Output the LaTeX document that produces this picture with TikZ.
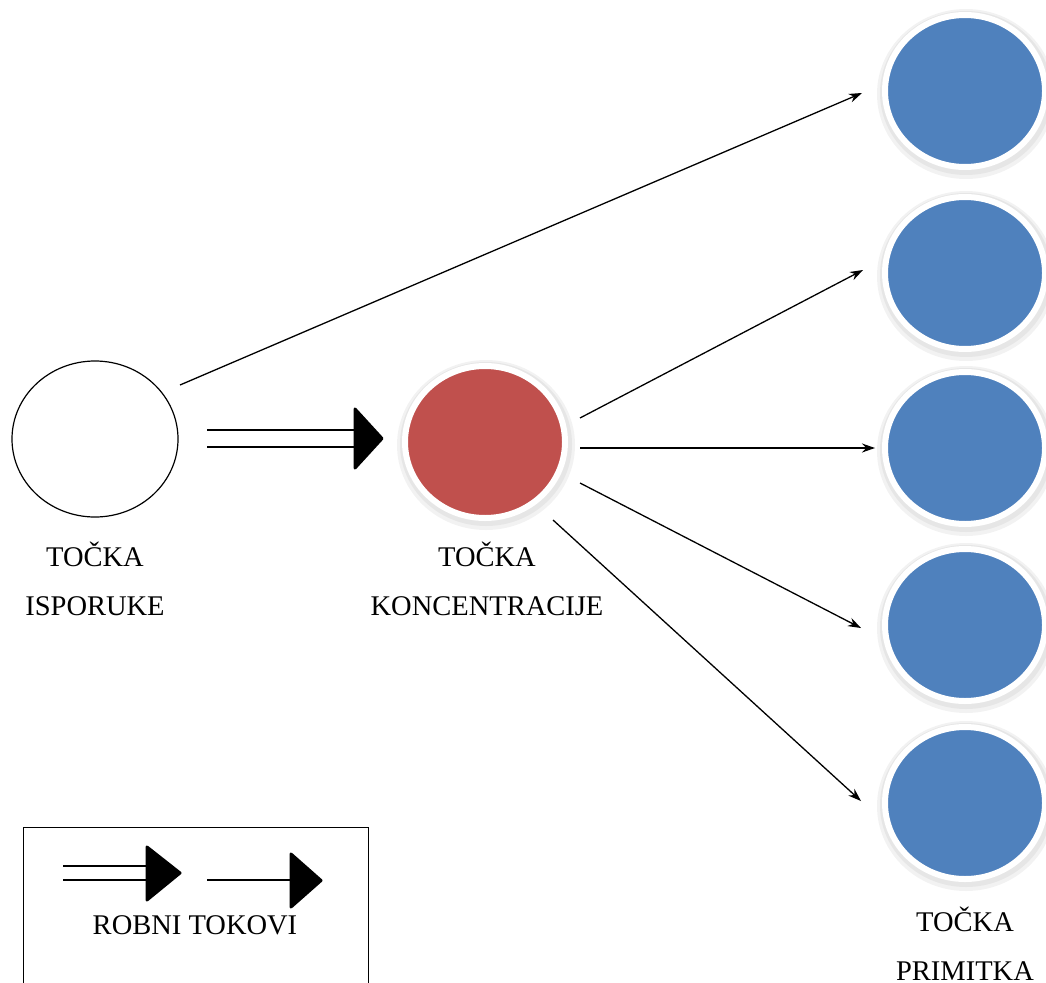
\documentclass[tikz,border=0pt]{standalone}
\usepackage{fontspec}
\setmainfont{Liberation Serif}
\usetikzlibrary{arrows.meta,shapes.geometric}
\definecolor{redfill}{HTML}{C0504D}
\definecolor{bluefill}{HTML}{4F81BD}
\tikzset{
  pt/.style={ellipse, minimum width=160pt, minimum height=152pt, inner sep=0pt},
  filledpt/.style={draw=white, line width=6pt},
  shadowpt/.style={fill=black, opacity=0.05, draw=none},
  thinarr/.style={line width=1.3pt, -{Stealth[length=13pt,width=9pt]}},
  dbl/.style={line width=1.5pt},
  bighead/.style={fill=black, draw=black, line width=3pt, line join=round},
  lbl/.style={font=\fontsize{28.5}{49}\selectfont, align=center, inner sep=0pt},
}
\begin{document}
\begin{tikzpicture}[x=1pt,y=-1pt]
\useasboundingbox (0,0) rectangle (1046,982);
\clip (0,0) rectangle (1046,982);

% supply point
\node[pt, draw=black, line width=1.2pt, minimum width=166pt, minimum height=156pt] (src) at (95,439) {};

% concentration point
\node[pt, shadowpt, minimum width=178pt, minimum height=170pt] at (486,445) {};
\node[pt, shadowpt, minimum width=172pt, minimum height=164pt] at (486,444) {};
\node[pt, filledpt, fill=redfill] (hub) at (485,442) {};

% receiving points
\foreach \n/\y in {1/91,2/273,3/448,4/625,5/803}{
  \node[pt, shadowpt, minimum width=178pt, minimum height=170pt] at (966,\y+3) {};
  \node[pt, shadowpt, minimum width=172pt, minimum height=164pt] at (966,\y+2) {};
  \node[pt, filledpt, fill=bluefill] (b\n) at (965,\y) {};
}

% labels
\node[lbl, anchor=north] (lsrc) at (95,542) {TOČKA\\ISPORUKE};
\node[lbl, anchor=north] (lhub) at (487,542) {TOČKA\\KONCENTRACIJE};
\node[lbl, anchor=north] (lrec) at (965,907) {TOČKA\\PRIMITKA};

% connector end points
\coordinate (s1) at (180,385);
\coordinate (e1) at (862,93);
\coordinate (h2) at (580,418);
\coordinate (e2) at (863,270);
\coordinate (h3) at (580,448);
\coordinate (e3) at (875,448);
\coordinate (h4) at (580,483);
\coordinate (e4) at (861,628);
\coordinate (h5) at (553,520);
\coordinate (e5) at (861,801);

\draw[thinarr] (s1) -- (e1);
\draw[thinarr] (h2) -- (e2);
\draw[thinarr] (h3) -- (e3);
\draw[thinarr] (h4) -- (e4);
\draw[thinarr] (h5) -- (e5);

% big double arrow
\coordinate (d1) at (207,430);
\coordinate (d2) at (207,447);
\draw[dbl] (d1) -- (356,430);
\draw[dbl] (d2) -- (356,447);
\draw[bighead] (355,409) -- (382,438.5) -- (355,468) -- cycle;

% legend
\node[draw=black, line width=1.2pt, minimum width=345pt, minimum height=170pt, anchor=north west, inner sep=0pt] (leg) at (23,827) {};
\draw[dbl] (63,866) -- (148,866);
\draw[dbl] (63,880) -- (148,880);
\draw[bighead] (147,847) -- (180,873) -- (147,900) -- cycle;
\draw[dbl] (207,880) -- (292,880);
\draw[bighead] (291,854) -- (321,880.5) -- (291,907) -- cycle;
\node[lbl] (legtxt) at (195,925) {ROBNI TOKOVI};
\end{tikzpicture}
\end{document}
